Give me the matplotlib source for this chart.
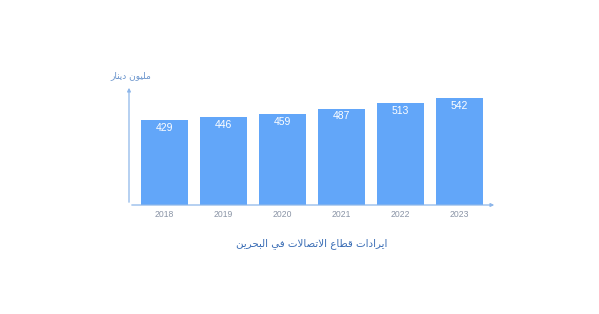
import matplotlib
matplotlib.use("Agg")
import matplotlib.pyplot as plt

years = ["2018", "2019", "2020", "2021", "2022", "2023"]
revenue = [429, 446, 459, 487, 513, 542]
title_text = "ايرادات قطاع الاتصالات في البحرين"
unit_text = "مليون دينار"

# matplotlib has no arabic shaping, so map letters to presentation forms by hand
forms = {
    "ا": ("\uFE8D", "\uFE8E", None, None),
    "ب": ("\uFE8F", "\uFE90", "\uFE91", "\uFE92"),
    "ت": ("\uFE95", "\uFE96", "\uFE97", "\uFE98"),
    "ح": ("\uFEA1", "\uFEA2", "\uFEA3", "\uFEA4"),
    "د": ("\uFEA9", "\uFEAA", None, None),
    "ر": ("\uFEAD", "\uFEAE", None, None),
    "ص": ("\uFEB9", "\uFEBA", "\uFEBB", "\uFEBC"),
    "ط": ("\uFEC1", "\uFEC2", "\uFEC3", "\uFEC4"),
    "ع": ("\uFEC9", "\uFECA", "\uFECB", "\uFECC"),
    "ف": ("\uFED1", "\uFED2", "\uFED3", "\uFED4"),
    "ق": ("\uFED5", "\uFED6", "\uFED7", "\uFED8"),
    "ل": ("\uFEDD", "\uFEDE", "\uFEDF", "\uFEE0"),
    "م": ("\uFEE1", "\uFEE2", "\uFEE3", "\uFEE4"),
    "ن": ("\uFEE5", "\uFEE6", "\uFEE7", "\uFEE8"),
    "و": ("\uFEED", "\uFEEE", None, None),
    "ي": ("\uFEF1", "\uFEF2", "\uFEF3", "\uFEF4"),
}


def shape(s):
    out = []
    i = 0
    prev_joins = False
    while i < len(s):
        ch = s[i]
        if ch not in forms:
            out.append(ch)
            prev_joins = False
            i += 1
            continue
        if ch == "ل" and i + 1 < len(s) and s[i + 1] == "ا":
            out.append("\uFEFC" if prev_joins else "\uFEFB")
            prev_joins = False
            i += 2
            continue
        nxt = s[i + 1] if i + 1 < len(s) else None
        has_next = nxt in forms
        iso, fin, ini, med = forms[ch]
        dual = ini is not None
        if prev_joins and has_next and dual:
            out.append(med)
        elif prev_joins:
            out.append(fin)
        elif has_next and dual:
            out.append(ini)
        else:
            out.append(iso)
        prev_joins = dual
        i += 1
    return "".join(out)[::-1]


fig = plt.figure(figsize=(5.99, 3.14), dpi=100)
ax = fig.add_axes([129 / 599, 109 / 314, 368 / 599, 120 / 314])
x = list(range(len(years)))
ax.bar(x, revenue, width=0.8, color="#62a6f9")
ax.set_xlim(-0.6, 5.64)
ax.set_ylim(0, 606)
for s in ax.spines.values():
    s.set_visible(False)
ax.set_yticks([])
ax.set_xticks(x)
ax.set_xticklabels(years, fontsize=6.2, color="#8a94a6", family="Liberation Sans")
ax.tick_params(axis="x", length=0, pad=3.5)

for xi, v in zip(x, revenue):
    ax.text(xi, v - 40, str(v), ha="center", va="center", color="white",
            fontsize=7.5, family="Liberation Sans")

axis_col = "#8db6ea"
ax.annotate("", xy=(1, 0), xytext=(0, 0), xycoords="axes fraction",
            arrowprops=dict(arrowstyle="-|>", color=axis_col, lw=0.9, mutation_scale=5))
ax.annotate("", xy=(0, 1), xytext=(0, 0), xycoords="axes fraction",
            arrowprops=dict(arrowstyle="-|>", color=axis_col, lw=0.9, mutation_scale=5))

fig.text(131 / 599, 1 - 76 / 314, shape(unit_text), ha="center", va="center",
         fontsize=6.5, color="#6a94cc", family="DejaVu Sans")
fig.text(312 / 599, 1 - 244 / 314, shape(title_text), ha="center", va="center",
         fontsize=7.4, color="#3a6db5", family="DejaVu Sans")

fig.savefig("out.png", dpi=100)
